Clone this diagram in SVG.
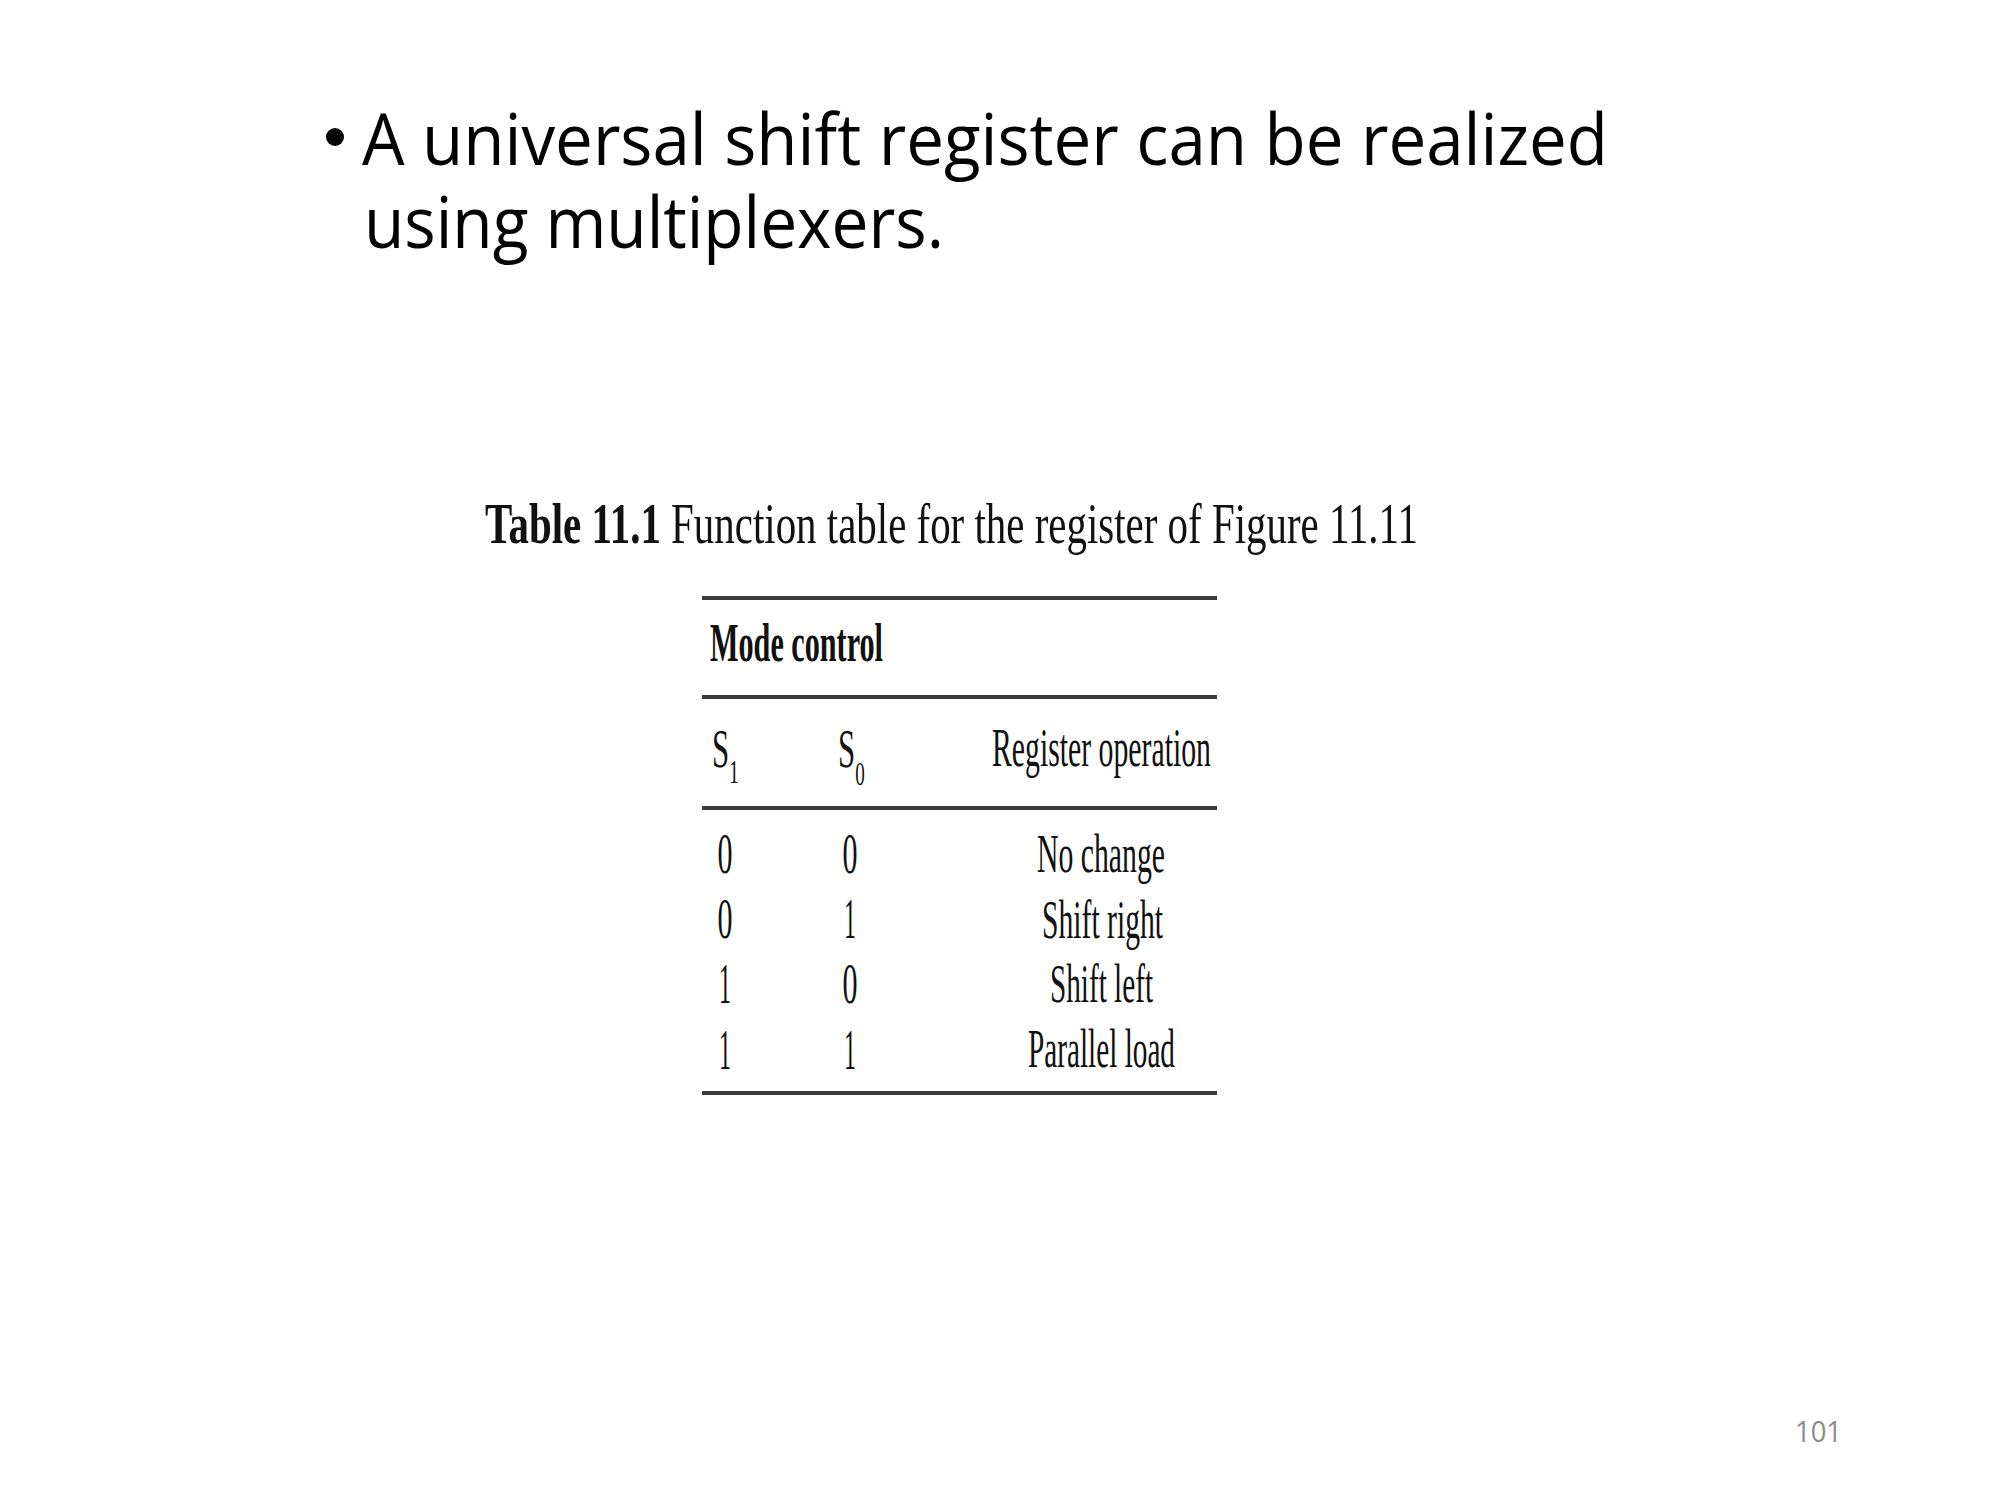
<svg xmlns="http://www.w3.org/2000/svg" width="2000" height="1500" viewBox="0 0 2000 1500">
<style>
.body{font-family:"Open Sans","Liberation Sans",sans-serif;font-size:72px;fill:#000}
.ser{font-family:"Liberation Serif","DejaVu Serif",serif;fill:#111}
.cap{font-size:58px}
.cell{font-size:55px}
.dig{font-size:56px;text-anchor:middle}
.rule{stroke:#3a3a3a;stroke-width:4}
.pg{font-family:"Open Sans","Liberation Sans",sans-serif;font-size:29px;fill:#8b8b8b}
</style>
<rect width="2000" height="1500" fill="#fff"/>
<g id="bullet">
<circle cx="335" cy="137" r="9" fill="#000"/>
<text class="body" x="362" y="165" textLength="1246" lengthAdjust="spacingAndGlyphs">A universal shift register can be realized</text>
<text class="body" x="364" y="248" textLength="580" lengthAdjust="spacingAndGlyphs">using multiplexers.</text>
</g>
<g id="caption">
<text class="ser cap" x="485" y="543" textLength="933" lengthAdjust="spacingAndGlyphs"><tspan font-weight="bold">Table 11.1</tspan> Function table for the register of Figure 11.11</text>
</g>
<g id="table">
<line class="rule" x1="702" y1="598" x2="1217" y2="598"/>
<line class="rule" x1="702" y1="697" x2="1217" y2="697"/>
<line class="rule" x1="702" y1="808" x2="1217" y2="808"/>
<line class="rule" x1="702" y1="1093" x2="1217" y2="1093"/>
<text class="ser cell" x="710" y="661" font-weight="bold" textLength="173" lengthAdjust="spacingAndGlyphs">Mode control</text>
<text class="ser cell" transform="translate(712,767) scale(0.56,1)">S<tspan font-size="34" dy="16">1</tspan></text>
<text class="ser cell" transform="translate(838,767) scale(0.56,1)">S<tspan font-size="34" dy="18">0</tspan></text>
<text class="ser cell" x="992" y="766" textLength="219" lengthAdjust="spacingAndGlyphs">Register operation</text>
<text class="ser dig" x="725" y="873" textLength="15" lengthAdjust="spacingAndGlyphs">0</text>
<text class="ser dig" x="850" y="873" textLength="15" lengthAdjust="spacingAndGlyphs">0</text>
<text class="ser dig" x="725" y="938" textLength="15" lengthAdjust="spacingAndGlyphs">0</text>
<text class="ser dig" x="850" y="938" textLength="12" lengthAdjust="spacingAndGlyphs">1</text>
<text class="ser dig" x="725" y="1003" textLength="12" lengthAdjust="spacingAndGlyphs">1</text>
<text class="ser dig" x="850" y="1003" textLength="15" lengthAdjust="spacingAndGlyphs">0</text>
<text class="ser dig" x="725" y="1069" textLength="12" lengthAdjust="spacingAndGlyphs">1</text>
<text class="ser dig" x="850" y="1069" textLength="12" lengthAdjust="spacingAndGlyphs">1</text>
<text class="ser cell" x="1037" y="872" textLength="128" lengthAdjust="spacingAndGlyphs">No change</text>
<text class="ser cell" x="1042" y="938" textLength="121" lengthAdjust="spacingAndGlyphs">Shift right</text>
<text class="ser cell" x="1050" y="1002" textLength="103" lengthAdjust="spacingAndGlyphs">Shift left</text>
<text class="ser cell" x="1028" y="1067" textLength="147" lengthAdjust="spacingAndGlyphs">Parallel load</text>
</g>
<g id="page">
<text class="pg" x="1795" y="1442" textLength="47" lengthAdjust="spacingAndGlyphs">101</text>
</g>
</svg>
